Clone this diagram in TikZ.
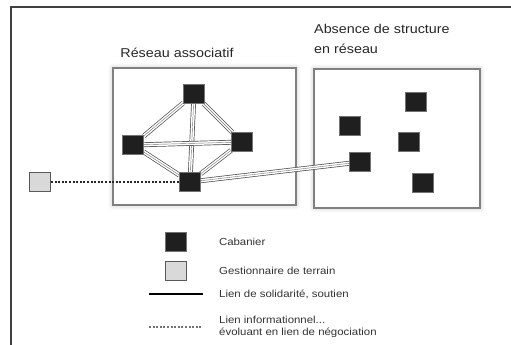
\documentclass[tikz,border=0pt]{standalone}
\usepackage{fontspec}
\setmainfont{Liberation Sans}[FakeStretch=1.12]
\usetikzlibrary{positioning, backgrounds, shadows.blur}
\pgfdeclarelayer{liens}
\pgfsetlayers{background,liens,main}
\tikzstyle{cabanier} = [rectangle, minimum width=21pt, minimum height=19pt, inner sep=0pt, fill=black!88, draw=black!55, line width=0.6pt]
\tikzstyle{gestion} = [rectangle, minimum width=21pt, minimum height=19pt, inner sep=0pt, fill=gray!30, draw=black!65, line width=1pt]
\tikzstyle{cadre} = [rectangle, inner sep=0pt, fill=white, draw=black!50, line width=1.2pt, blur shadow={shadow xshift=0pt, shadow yshift=0pt, shadow blur radius=5pt, shadow blur steps=6, shadow opacity=25}]
\tikzstyle{lien} = [preaction={draw=black!70, line width=4.8pt}, draw=white, line width=3.4pt, postaction={draw=black!55, line width=0.4pt}]
\tikzstyle{info} = [draw=black!85, line width=1.3pt, dash pattern=on 2pt off 1.6pt]
\tikzstyle{titre} = [font=\fontsize{12.8}{20}\selectfont, text=black!85, align=left, inner sep=0pt]
\tikzstyle{legende} = [font=\fontsize{10.2}{12.5}\selectfont, text=black!80, align=left, anchor=west, inner sep=0pt]

\begin{document}
\begin{tikzpicture}[x=1pt, y=-1pt]
  \useasboundingbox (0,0) rectangle (511,345);
  \draw[black!75, line width=1.3pt] (11,345) |- (511,7);

  % les deux cadres
  \begin{scope}[on background layer]
    \node[cadre, minimum width=183pt, minimum height=137pt] (reseau) at (204.5,136.5) {};
    \node[cadre, minimum width=166pt, minimum height=139pt] (absence) at (397,138.5) {};
  \end{scope}
  \node[titre, anchor=base] (treseau) at (177,57) {Réseau associatif};
  \node[titre, anchor=north west] (tabsence) at (314,24.5) {Absence de structure\\en réseau};

  % cabaniers en reseau
  \node[cabanier] (c1) at (194,94) {};
  \node[cabanier] (c2) at (133,145) {};
  \node[cabanier] (c3) at (242,142) {};
  \node[cabanier] (c4) at (190,182) {};

  % cabaniers isoles
  \node[cabanier] (r1) at (416,102) {};
  \node[cabanier] (r2) at (350,126) {};
  \node[cabanier] (r3) at (409,142) {};
  \node[cabanier] (r4) at (360,162) {};
  \node[cabanier] (r5) at (423,183) {};

  \node[gestion] (gest) at (40,182) {};

  \begin{pgfonlayer}{liens}
    \draw[lien] (c1) -- (c2);
    \draw[lien] (c1) -- (c3);
    \draw[lien] (c1) -- (c4);
    \draw[lien] (c2) -- (c3);
    \draw[lien] (c2) -- (c4);
    \draw[lien] (c3) -- (c4);
    \draw[lien] (c4) -- (r4);
    \draw[info] (gest) -- (c4);
  \end{pgfonlayer}

  % legende
  \node[cabanier] (lcab) at (176,242) {};
  \node[gestion, below=9pt of lcab] (lgest) {};
  \node[legende, right=32pt of lcab] (tcab) {Cabanier};
  \node[legende, right=32pt of lgest] (tgest) {Gestionnaire de terrain};
  \coordinate (ls1) at (149,294);
  \coordinate (ls2) at (203,294);
  \draw[black, line width=2pt] (ls1) -- (ls2);
  \node[legende, right=16pt of ls2] (tsout) {Lien de solidarité, soutien};
  \coordinate (ld1) at (149,327);
  \coordinate (ld2) at (201,327);
  \draw[info, draw=black!55] (ld1) -- (ld2);
  \node[legende, right=18pt of ld2] (tinfo) {Lien informationnel...\\évoluant en lien de négociation};
\end{tikzpicture}
\end{document}
